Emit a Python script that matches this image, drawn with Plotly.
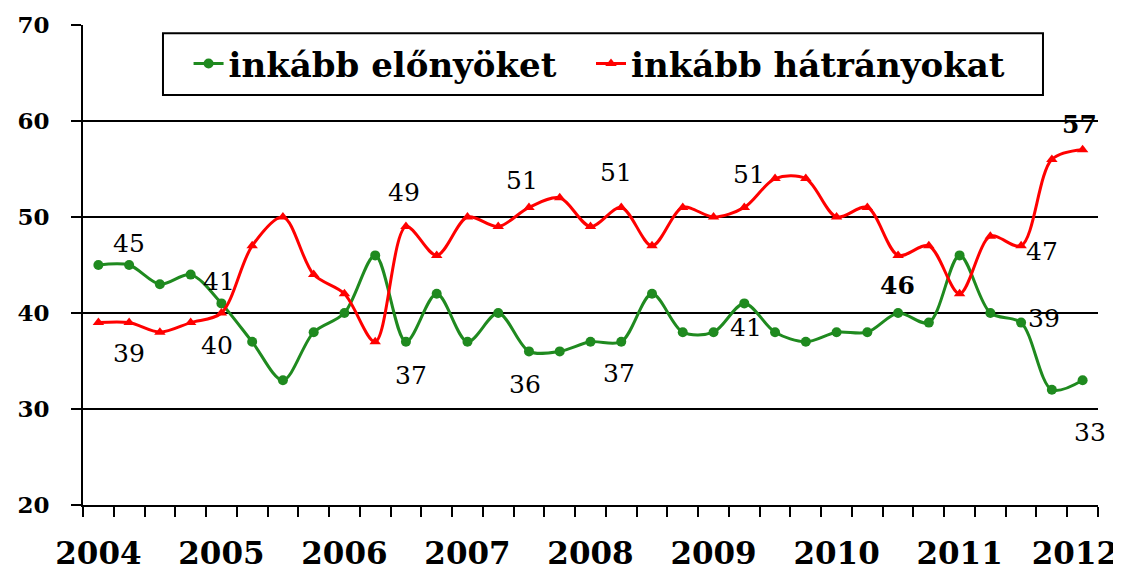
import plotly.graph_objects as go

# ---- data ----
period_index = list(range(33))
year_tick_positions = [0, 4, 8, 12, 16, 20, 24, 28, 31.75]
year_labels = ["2004", "2005", "2006", "2007", "2008", "2009", "2010", "2011", "2012"]

series_names = ["inkább előnyöket", "inkább hátrányokat"]
advantages = [45, 45, 43, 44, 41, 37, 33, 38, 40, 46, 37, 42, 37, 40, 36, 36, 37,
              37, 42, 38, 38, 41, 38, 37, 38, 38, 40, 39, 46, 40, 39, 32, 33]
disadvantages = [39, 39, 38, 39, 40, 47, 50, 44, 42, 37, 49, 46, 50, 49, 51, 52, 49,
                 51, 47, 51, 50, 51, 54, 54, 50, 51, 46, 47, 42, 48, 47, 56, 57]

# labelled points: (series, index, xshift, yshift, bold)
label_specs = [
    ("adv", 1, 0, 22, False),
    ("adv", 4, -2, 22, False),
    ("dis", 1, 0, -31, False),
    ("dis", 4, -4, -32, False),
    ("dis", 10, -2, 34, False),
    ("adv", 10, 5, -34, False),
    ("dis", 14, -7, 27, False),
    ("adv", 14, -4, -33, False),
    ("dis", 17, -5, 35, False),
    ("adv", 17, -2, -32, False),
    ("adv", 21, 2, -24, False),
    ("dis", 21, 5, 33, False),
    ("dis", 26, -1, -30, True),
    ("dis", 30, 21, -6, False),
    ("adv", 30, 23, 4, False),
    ("dis", 32, -3, 25, True),
    ("adv", 32, 7, -52, False),
]

GREEN = "#1f8a1f"
RED = "#ff0000"
SERIF = "DejaVu Serif"
LEGEND_FONT = dict(family=SERIF, size=34, color="black", weight="bold")

fig = go.Figure()
fig.add_trace(go.Scatter(
    x=period_index, y=advantages, name=series_names[0], mode="lines+markers",
    line=dict(color=GREEN, width=3, shape="spline", smoothing=0.9),
    marker=dict(symbol="circle", size=10, color=GREEN),
    legend="legend",
))
fig.add_trace(go.Scatter(
    x=period_index, y=disadvantages, name=series_names[1], mode="lines+markers",
    line=dict(color=RED, width=3, shape="spline", smoothing=0.9),
    marker=dict(symbol="triangle-up", size=10, color=RED),
    legend="legend2",
))

values = {"adv": advantages, "dis": disadvantages}
for key, idx, dx, dy, bold in label_specs:
    v = values[key][idx]
    fig.add_annotation(
        x=period_index[idx], y=v, xref="x", yref="y", text=str(v), showarrow=False,
        xshift=dx, yshift=dy,
        font=dict(family=SERIF, size=25, color="black", weight="bold" if bold else "normal"),
    )

# legend frame
fig.add_shape(type="rect", xref="paper", yref="paper",
              x0=0.0788, x1=0.9458, y0=0.854, y1=0.983,
              line=dict(color="black", width=2), fillcolor="rgba(0,0,0,0)")

# page body has an 8px default margin; margins are compensated for it
fig.update_layout(
    width=1121, height=569,
    margin=dict(l=75, r=31, t=17, b=72, autoexpand=False),
    paper_bgcolor="white", plot_bgcolor="white",
    showlegend=True,
    legend=dict(
        orientation="h", x=0.104, y=0.919, xanchor="left", yanchor="middle",
        borderwidth=0, bgcolor="rgba(0,0,0,0)", font=LEGEND_FONT, itemwidth=30,
    ),
    legend2=dict(
        orientation="h", x=0.5005, y=0.919, xanchor="left", yanchor="middle",
        borderwidth=0, bgcolor="rgba(0,0,0,0)", font=LEGEND_FONT, itemwidth=30,
    ),
)

fig.update_xaxes(
    range=[-0.5, 32.5], tickmode="array", tickvals=year_tick_positions, ticktext=year_labels,
    ticks="", showgrid=False, zeroline=False, automargin=False,
    showline=True, linecolor="black", linewidth=2,
    tickfont=dict(family=SERIF, size=31, color="black", weight="bold"),
    ticklabelstandoff=20, ticklabeloverflow="allow",
    minor=dict(tickmode="linear", tick0=-0.5, dtick=1, ticks="outside", ticklen=10,
               tickcolor="black", tickwidth=2, showgrid=False),
)
fig.update_yaxes(
    range=[20, 70], tickmode="linear", tick0=20, dtick=10, automargin=False,
    ticks="outside", ticklen=10, tickcolor="black", tickwidth=2,
    showgrid=True, gridcolor="black", gridwidth=1.5, zeroline=False,
    showline=True, linecolor="black", linewidth=2,
    tickfont=dict(family=SERIF, size=23, color="black", weight="bold"),
    ticklabelstandoff=17,
)

fig.write_html("out.html")
